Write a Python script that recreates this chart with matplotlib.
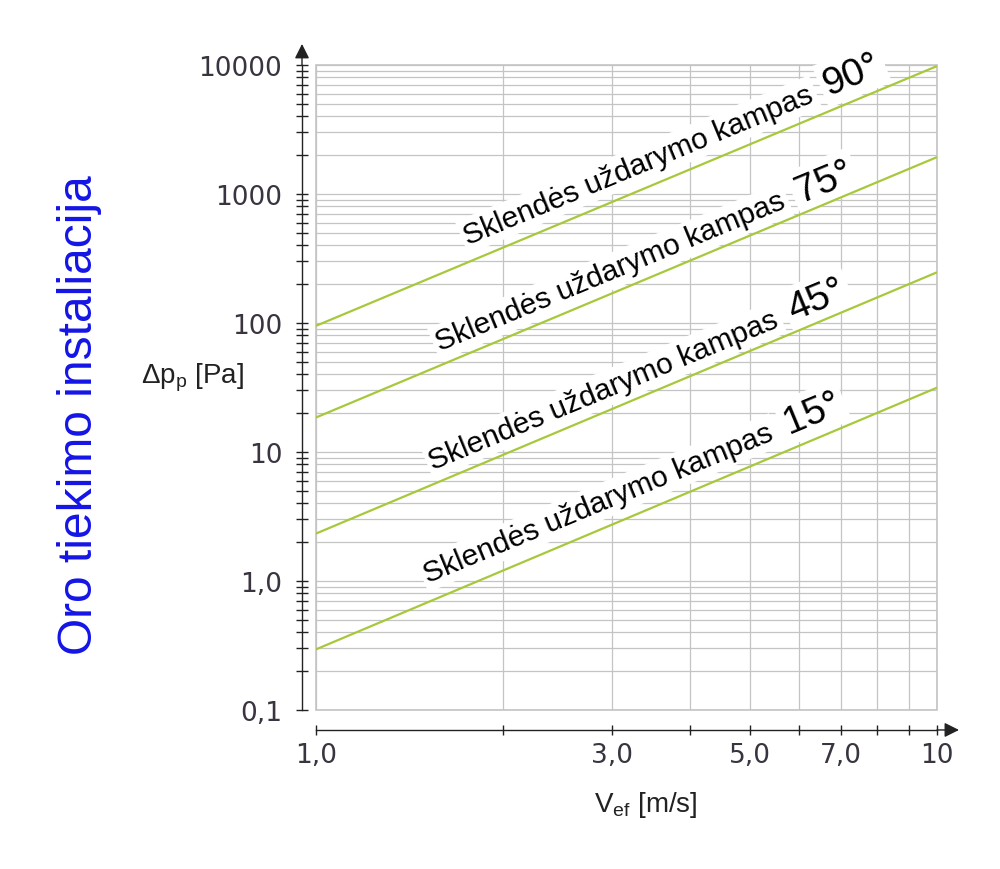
import math
import matplotlib
matplotlib.use("Agg")
import matplotlib.pyplot as plt
from matplotlib.ticker import FixedLocator, FixedFormatter, NullFormatter

plt.rcParams["mathtext.fontset"] = "custom"
plt.rcParams["mathtext.rm"] = "Liberation Sans"
plt.rcParams["mathtext.it"] = "Liberation Sans:italic"

# data
v = [1.0, 10.0]
dp_90 = [95, 9800]
dp_75 = [18.5, 1930]
dp_45 = [2.33, 247]
dp_15 = [0.295, 31.5]
angles = ["90°", "75°", "45°", "15°"]

y_major = [0.1, 1, 10, 100, 1000, 10000]
y_major_labels = ["0,1", "1,0", "10", "100", "1000", "10000"]
y_minor = [m * d for d in [0.1, 1, 10, 100, 1000] for m in range(2, 10)]
x_major = [1, 3, 5, 7, 10]
x_major_labels = ["1,0", "3,0", "5,0", "7,0", "10"]
x_minor = [2, 4, 6, 8, 9]

green = "#a8c83c"
axcol = "#222222"
tickcol = "#3a3440"
gridcol = "#c4c4c4"

fig = plt.figure(figsize=(10, 8.7), dpi=100)
ax = fig.add_axes([0.316, 0.1828, 0.621, 0.7414])
ax.set_xscale("log")
ax.set_yscale("log")
ax.set_xlim(1, 10)
ax.set_ylim(0.1, 10000)

for dp in [dp_90, dp_75, dp_45, dp_15]:
    ax.plot(v, dp, color=green, lw=1.6, zorder=4, solid_capstyle="butt")

# ticks
ax.xaxis.set_major_locator(FixedLocator(x_major))
ax.xaxis.set_major_formatter(FixedFormatter(x_major_labels))
ax.xaxis.set_minor_locator(FixedLocator(x_minor))
ax.xaxis.set_minor_formatter(NullFormatter())
ax.yaxis.set_major_locator(FixedLocator(y_major))
ax.yaxis.set_major_formatter(FixedFormatter(y_major_labels))
ax.yaxis.set_minor_locator(FixedLocator(y_minor))
ax.yaxis.set_minor_formatter(NullFormatter())

ax.tick_params(axis="y", which="both", direction="inout", length=8.5, width=1,
               color=axcol, pad=10, labelsize=19, labelcolor=tickcol)
ax.tick_params(axis="x", which="both", direction="inout", length=7, width=1,
               color=axcol, pad=5, labelsize=19, labelcolor=tickcol)
for lab in ax.get_xticklabels() + ax.get_yticklabels():
    lab.set_family("Lato")

ax.grid(True, which="both", color=gridcol, lw=0.9)
# light frame round the grid
ax.patch.set_edgecolor(gridcol)
ax.patch.set_linewidth(1.2)
for s in ["top", "right"]:
    ax.spines[s].set_visible(False)
ax.spines["left"].set_position(("outward", 10))
ax.spines["bottom"].set_position(("outward", 14.4))
ax.spines["left"].set_color(axcol)
ax.spines["bottom"].set_color(axcol)
ax.spines["left"].set_linewidth(1)
ax.spines["bottom"].set_linewidth(1)

# axis arrows
xs = -14 / 621
ys = -20 / 645
ax.annotate("", xy=(xs, 1 + 21 / 645), xytext=(xs, 1.0), xycoords="axes fraction",
            arrowprops=dict(arrowstyle="-|>", mutation_scale=22, color=axcol, lw=1,
                            shrinkA=0, shrinkB=0), annotation_clip=False)
ax.annotate("", xy=(1 + 22 / 621, ys), xytext=(1.0, ys), xycoords="axes fraction",
            arrowprops=dict(arrowstyle="-|>", mutation_scale=22, color=axcol, lw=1,
                            shrinkA=0, shrinkB=0), annotation_clip=False)

# line labels
ang = 22.5
L = 281
label_pos = [(1.757, 409), (1.584, 60.7), (1.543, 7.38), (1.515, 0.98)]
box = dict(boxstyle="square,pad=0.12", fc="white", ec="none")
for (lx, ly), a in zip(label_pos, angles):
    ax.text(lx, ly, "Sklendės uždarymo kampas", rotation=ang, rotation_mode="anchor",
            ha="left", va="baseline", fontsize=21.5, family="Liberation Sans",
            color="black", bbox=box, zorder=3)
    ax.annotate(a, xy=(lx, ly), xycoords="data",
                xytext=(L * math.cos(math.radians(ang)), L * math.sin(math.radians(ang))),
                textcoords="offset points", rotation=ang, rotation_mode="anchor",
                ha="left", va="baseline", fontsize=28, family="Liberation Sans",
                color="black", bbox=box, zorder=3)

fig.text(0.192, 1 - 378 / 870, "Δp$_\\mathrm{p}$ [Pa]", ha="center", va="center",
         fontsize=20, family="Liberation Sans", color="#222222")
fig.text(0.646, 1 - 805 / 870, "V$_\\mathrm{ef}$ [m/s]", ha="center", va="center",
         fontsize=20, family="Liberation Sans", color="#222222")
fig.text(0.08, 1 - 415 / 870, "Oro tiekimo instaliacija", rotation=90,
         ha="center", va="center", fontsize=34.5, family="Liberation Sans",
         color="#1414e6")

fig.savefig("out.png", dpi=100)
